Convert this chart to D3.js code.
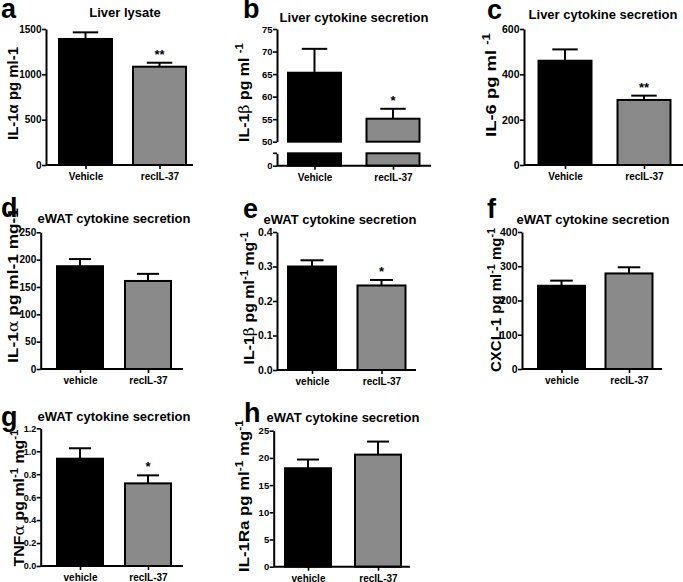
<!DOCTYPE html>
<html><head><meta charset="utf-8">
<script src="https://cdn.jsdelivr.net/npm/d3@7"></script>
<style>
body{margin:0;background:#fff}
svg text{font-family:"Liberation Sans",Arial,sans-serif;font-weight:bold;fill:#000}
</style>
</head><body>
<svg id="chart" width="683" height="582"></svg>
<script>
// ---------- data ----------
const groupsLiver = ["Vehicle", "recIL-37"];
const groupsEwat = ["vehicle", "recIL-37"];
const panelLetters = ["a", "b", "c", "d", "e", "f", "g", "h"];
const panelTitles = ["Liver lysate", "Liver cytokine secretion", "Liver cytokine secretion",
  "eWAT cytokine secretion", "eWAT cytokine secretion", "eWAT cytokine secretion",
  "eWAT cytokine secretion", "eWAT cytokine secretion"];

const meanA = [1390, 1084], errA = [73, 44], ticksA = [0, 500, 1000, 1500], sigA = ["", "**"];
const meanB = [65.3, 55.1], errB = [5.3, 2.2], ticksB = [50, 55, 60, 65, 70, 75], sigB = ["", "*"];
const meanC = [460, 287], errC = [50, 19], ticksC = [0, 200, 400, 600], sigC = ["", "**"];
const meanD = [188, 161], errD = [13, 13], ticksD = [0, 50, 100, 150, 200, 250], sigD = ["", ""];
const meanE = [0.300, 0.245], errE = [0.018, 0.016], ticksE = [0, 0.1, 0.2, 0.3, 0.4], sigE = ["", "*"];
const meanF = [243, 279], errF = [15, 18], ticksF = [0, 100, 200, 300, 400], sigF = ["", ""];
const meanG = [0.935, 0.72], errG = [0.091, 0.07], ticksG = [0, 0.2, 0.4, 0.6, 0.8, 1.0, 1.2], sigG = ["", "*"];
const meanH = [18.1, 20.6], errH = [1.6, 2.4], ticksH = [0, 5, 10, 15, 20, 25], sigH = ["", ""];

// y-axis labels: "~" prefix = greek (symbol style), "^" prefix = superscript
const ylabA = ["IL-1α pg ml-1"];
const ylabB = ["IL-1", "~β", " pg ml ", "^-1"];
const ylabC = ["IL-6 pg ml ", "^-1"];
const ylabD = ["IL-1", "~α", " pg ml-1 mg-1"];
const ylabE = ["IL-1", "~β", " pg ml", "^-1", " mg", "^-1"];
const ylabF = ["CXCL-1 pg ml", "^-1", " mg", "^-1"];
const ylabG = ["TNF", "~α", " pg ml", "^-1", " mg", "^-1"];
const ylabH = ["IL-1Ra pg ml", "^-1", " mg", "^-1"];

// ---------- layout ----------
const panels = [
  {mean: meanA, err: errA, ticks: ticksA, sig: sigA, ylab: ylabA, groups: groupsLiver, fmt: d3.format("d"), tf: 10,
   ax: 46, right: 193, top: 29, bottom: 165, cx: [85.5, 159.5], bw: 53,
   letter: [1, 18], title: [125, 17], ylp: [18, 93.5], ylLen: 93},
  {mean: meanB, err: errB, ticks: ticksB, sig: sigB, ylab: ylabB, groups: groupsLiver, fmt: d3.format("d"), tf: 9.5, broken: true,
   ax: 277, right: 431, top: 29, bottom: 165.7, brkTop: 141.7, brkBot: 153.3, cx: [314.5, 393], bw: 53,
   letter: [243, 18], title: [354, 22], ylp: [249, 92.5], ylLen: 99},
  {mean: meanC, err: errC, ticks: ticksC, sig: sigC, ylab: ylabC, groups: groupsLiver, fmt: d3.format("d"), tf: 10.5,
   ax: 524, right: 683, top: 29, bottom: 165, cx: [565, 644], bw: 53,
   letter: [487, 19], title: [603, 19], ylp: [496, 85], ylLen: 104},
  {mean: meanD, err: errD, ticks: ticksD, sig: sigD, ylab: ylabD, groups: groupsEwat, fmt: d3.format("d"), tf: 10,
   ax: 40.7, right: 183, top: 232.3, bottom: 369, cx: [80, 148], bw: 46,
   letter: [1, 217], title: [114, 223], ylp: [18, 285.5], ylLen: 155},
  {mean: meanE, err: errE, ticks: ticksE, sig: sigE, ylab: ylabE, groups: groupsEwat, fmt: d3.format(".1f"), tf: 10.5,
   ax: 277, right: 416, top: 232, bottom: 370, cx: [312, 381.5], bw: 48,
   letter: [243, 218], title: [340, 224], ylp: [254, 298], ylLen: 133},
  {mean: meanF, err: errF, ticks: ticksF, sig: sigF, ylab: ylabF, groups: groupsEwat, fmt: d3.format("d"), tf: 10.5,
   ax: 522, right: 662, top: 232, bottom: 369, cx: [561.5, 629], bw: 47,
   letter: [487, 218], title: [593, 224], ylp: [501, 300], ylLen: 144},
  {mean: meanG, err: errG, ticks: ticksG, sig: sigG, ylab: ylabG, groups: groupsEwat, fmt: d3.format(".1f"), tf: 9,
   ax: 40.7, right: 183, top: 428.3, bottom: 566, cx: [80, 148], bw: 46,
   letter: [1, 426], title: [114, 421], ylp: [24, 498], ylLen: 137},
  {mean: meanH, err: errH, ticks: ticksH, sig: sigH, ylab: ylabH, groups: groupsEwat, fmt: d3.format("d"), tf: 9.5,
   ax: 273.7, right: 410, top: 430.7, bottom: 566.7, cx: [308, 378], bw: 46,
   letter: [244, 422], title: [343, 422], ylp: [249, 496], ylLen: 152}
];
const barFill = ["#000000", "#8a8a8a"];

const svg = d3.select("#chart");

function styleAxis(g, tf) {
  g.attr("font-family", null).attr("font-size", null);
  g.selectAll("text").style("font-size", tf + "px").style("font-weight", "bold")
    .style("font-family", '"Liberation Sans", Arial, sans-serif');
  g.select(".domain").attr("stroke", "#000").attr("stroke-width", 2);
  g.selectAll(".tick line").attr("stroke", "#000").attr("stroke-width", 1.6);
}

panels.forEach((p, i) => {
  const g = svg.append("g");
  const x = d3.scalePoint().domain(p.groups).range(p.cx).padding(0);
  let y, yLow = null;
  const maxT = p.ticks[p.ticks.length - 1];
  if (p.broken) {
    y = d3.scaleLinear().domain([p.ticks[0], maxT]).range([p.brkTop, p.top]);
    yLow = d3.scaleLinear().domain([0, 5]).range([p.bottom, p.brkBot]);
  } else {
    y = d3.scaleLinear().domain([0, maxT]).range([p.bottom, p.top]);
  }

  const bars = p.mean.map((m, k) => ({m, e: p.err[k], s: p.sig[k], cat: p.groups[k], k}));
  const bw = p.bw;
  if (p.broken) {
    g.selectAll(".barU").data(bars).join("rect")
      .attr("x", d => x(d.cat) - bw / 2).attr("width", bw)
      .attr("y", d => y(d.m)).attr("height", d => y(p.ticks[0]) - y(d.m))
      .attr("fill", d => barFill[d.k]).attr("stroke", "#000").attr("stroke-width", 2);
    g.selectAll(".barL").data(bars).join("rect")
      .attr("x", d => x(d.cat) - bw / 2).attr("width", bw)
      .attr("y", yLow(5)).attr("height", yLow(0) - yLow(5))
      .attr("fill", d => barFill[d.k]).attr("stroke", "#000").attr("stroke-width", 2);
  } else {
    g.selectAll(".bar").data(bars).join("rect")
      .attr("x", d => x(d.cat) - bw / 2).attr("width", bw)
      .attr("y", d => y(d.m)).attr("height", d => y(0) - y(d.m))
      .attr("fill", d => barFill[d.k]).attr("stroke", "#000").attr("stroke-width", 2);
  }
  const cw = bw * 0.48;
  bars.forEach(d => {
    const cxx = x(d.cat);
    g.append("line").attr("x1", cxx).attr("x2", cxx).attr("y1", y(d.m)).attr("y2", y(d.m + d.e))
      .attr("stroke", "#000").attr("stroke-width", 2);
    g.append("line").attr("x1", cxx - cw / 2).attr("x2", cxx + cw / 2).attr("y1", y(d.m + d.e)).attr("y2", y(d.m + d.e))
      .attr("stroke", "#000").attr("stroke-width", 2);
    if (d.s) {
      g.append("text").attr("x", cxx).attr("y", y(d.m + d.e) - 4).attr("text-anchor", "middle")
        .style("font-size", "13px").text(d.s);
    }
  });

  const ya = g.append("g").attr("transform", `translate(${p.ax},0)`)
    .call(d3.axisLeft(y).tickValues(p.ticks).tickFormat(p.fmt).tickSize(4).tickPadding(0.5).tickSizeOuter(0));
  styleAxis(ya, p.tf);
  if (p.broken) {
    const yl = g.append("g").attr("transform", `translate(${p.ax},0)`)
      .call(d3.axisLeft(yLow).tickValues([0]).tickFormat(d3.format("d")).tickSize(4).tickPadding(0.5).tickSizeOuter(0));
    styleAxis(yl, p.tf);
    yl.append("line").attr("x1", -4).attr("x2", 0).attr("y1", yLow(5)).attr("y2", yLow(5))
      .attr("stroke", "#000").attr("stroke-width", 1.6);
  }
  g.append("line").attr("x1", p.ax).attr("x2", p.right).attr("y1", p.bottom).attr("y2", p.bottom)
    .attr("stroke", "#000").attr("stroke-width", 2);
  const xa = g.append("g").attr("transform", `translate(0,${p.bottom})`)
    .call(d3.axisBottom(x).tickSize(4).tickPadding(4).tickSizeOuter(0));
  xa.select(".domain").remove();
  styleAxis(xa, 10);

  g.append("text").attr("x", p.title[0]).attr("y", p.title[1]).attr("text-anchor", "middle")
    .style("font-size", "13px").text(panelTitles[i]);
  g.append("text").attr("x", p.letter[0]).attr("y", p.letter[1])
    .style("font-size", "27px").text(panelLetters[i]);

  // y label (stretched along its length to match the reference)
  const fs = 14;
  const t = g.append("text").attr("text-anchor", "middle")
    .attr("transform", `translate(${p.ylp[0]},${p.ylp[1]}) rotate(-90)`)
    .style("font-size", fs + "px");
  let shift = 0;
  p.ylab.forEach(seg => {
    if (seg[0] === "^") {
      t.append("tspan").attr("dy", -6).style("font-size", "10px").text(seg.slice(1));
      shift = 6;
    } else {
      const ts = t.append("tspan").attr("dy", shift);
      shift = 0;
      if (seg[0] === "~") {
        ts.style("font-family", '"DejaVu Serif", serif').style("font-weight", "normal").text(seg.slice(1));
      } else {
        ts.text(seg);
      }
    }
  });
  const len = t.node().getComputedTextLength();
  if (len > 0) {
    const k = p.ylLen / len;
    t.attr("transform", `translate(${p.ylp[0]},${p.ylp[1]}) rotate(-90) scale(${k},1)`);
  }
});
</script>
</body></html>
